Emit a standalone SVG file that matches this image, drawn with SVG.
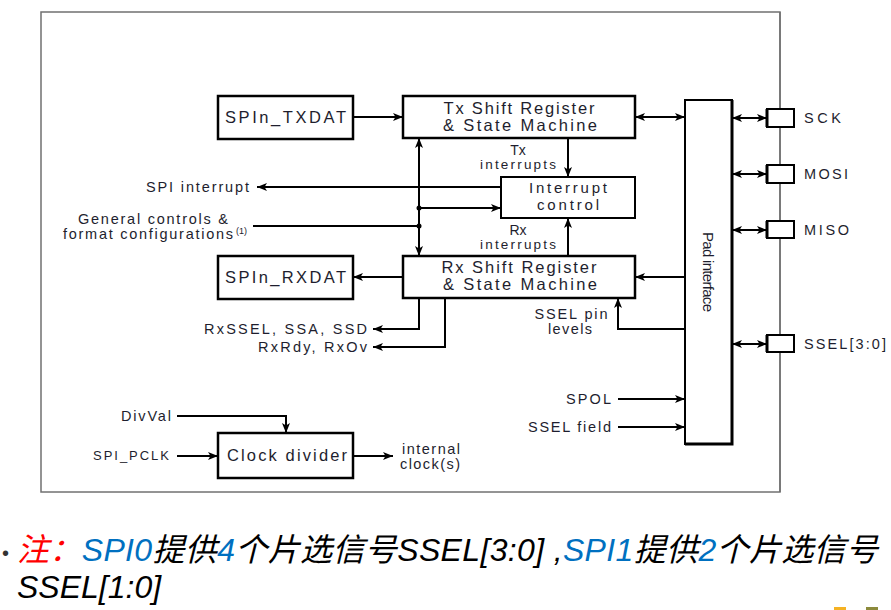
<svg xmlns="http://www.w3.org/2000/svg" width="891" height="610" viewBox="0 0 891 610">
<style>
.box{fill:#fff;stroke:#000;stroke-width:2.5}
.thin{fill:#fff;stroke:#000;stroke-width:2}
.ln{fill:none;stroke:#000;stroke-width:2}
.t{font-family:"Liberation Sans",Arial,sans-serif;fill:#1e1e2e}
.bl{font-size:16.5px;text-anchor:middle}
.sm{font-size:14.5px}
.mid{text-anchor:middle}
.note{font-family:"Liberation Sans","Noto Sans CJK SC",sans-serif;font-style:italic;font-size:32px;fill:#000}
</style>
<defs>
<marker id="ah" markerUnits="userSpaceOnUse" markerWidth="10" markerHeight="8" refX="10" refY="4" orient="auto-start-reverse" viewBox="0 0 10 8">
<path d="M0,0 L10,4 L0,8 L2.5,4 z" fill="#000"/>
</marker>
</defs>

<rect x="41" y="12" width="739" height="480" fill="none" stroke="#707070" stroke-width="1.5"/>

<g id="connectors">
<path class="ln" d="M353,117 H403" marker-end="url(#ah)"/>
<path class="ln" d="M635,117 H685" marker-start="url(#ah)" marker-end="url(#ah)"/>
<path class="ln" d="M419,138 V256" marker-start="url(#ah)" marker-end="url(#ah)"/>
<path class="ln" d="M568,138 V177" stroke-width="3" marker-end="url(#ah)"/>
<path class="ln" d="M568,256 V218" stroke-width="3" marker-end="url(#ah)"/>
<path class="ln" d="M501,187 H257" marker-end="url(#ah)"/>
<path class="ln" d="M253,226 H419"/>
<path class="ln" d="M419,208 H501" marker-end="url(#ah)"/>
<circle cx="419" cy="208" r="2.5" fill="#000"/>
<circle cx="419" cy="226" r="2.5" fill="#000"/>
<path class="ln" d="M403,277 H353" marker-end="url(#ah)"/>
<path class="ln" d="M685,277 H635" marker-end="url(#ah)"/>
<path class="ln" d="M419,298 V329 H373" marker-end="url(#ah)"/>
<path class="ln" d="M445,298 V347 H373" marker-end="url(#ah)"/>
<path class="ln" d="M685,329 H618 V298" marker-end="url(#ah)"/>
<path class="ln" d="M618,399 H685" marker-end="url(#ah)"/>
<path class="ln" d="M618,427 H685" marker-end="url(#ah)"/>
<path class="ln" d="M732,118 H767" marker-start="url(#ah)" marker-end="url(#ah)"/>
<path class="ln" d="M732,174 H767" marker-start="url(#ah)" marker-end="url(#ah)"/>
<path class="ln" d="M732,230 H767" marker-start="url(#ah)" marker-end="url(#ah)"/>
<path class="ln" d="M732,344 H767" marker-start="url(#ah)" marker-end="url(#ah)"/>
<path class="ln" d="M177,416 H286 V433" marker-end="url(#ah)"/>
<path class="ln" d="M177,456 H218" marker-end="url(#ah)"/>
<path class="ln" d="M353,456 H393" marker-end="url(#ah)"/>
</g>

<g id="txdat">
<rect class="box" x="218" y="96" width="135" height="43"/>
<text class="t bl" x="285.5" y="123" textLength="121" lengthAdjust="spacing">SPIn_TXDAT</text>
</g>
<g id="txshift">
<rect class="box" x="403" y="96" width="232" height="42"/>
<text class="t bl" x="519" y="114" textLength="151" lengthAdjust="spacing">Tx Shift Register</text>
<text class="t bl" x="520" y="131" textLength="154" lengthAdjust="spacing">&amp; State Machine</text>
</g>
<g id="intctrl">
<rect class="thin" x="501" y="177" width="134" height="41"/>
<text class="t mid" font-size="15" x="568" y="193" textLength="78" lengthAdjust="spacing">Interrupt</text>
<text class="t mid" font-size="15" x="568" y="210" textLength="62" lengthAdjust="spacing">control</text>
</g>
<g id="rxshift">
<rect class="box" x="403" y="256" width="232" height="42"/>
<text class="t bl" x="519" y="273" textLength="155" lengthAdjust="spacing">Rx Shift Register</text>
<text class="t bl" x="520" y="290" textLength="154" lengthAdjust="spacing">&amp; State Machine</text>
</g>
<g id="rxdat">
<rect class="box" x="218" y="256" width="135" height="43"/>
<text class="t bl" x="285.5" y="283" textLength="121" lengthAdjust="spacing">SPIn_RXDAT</text>
</g>
<g id="clkdiv">
<rect class="box" x="218" y="433" width="135" height="45"/>
<text class="t bl" x="287" y="461" textLength="120" lengthAdjust="spacing">Clock divider</text>
</g>
<g id="pad">
<rect class="thin" x="685" y="100" width="47" height="344"/>
<path d="M732,100 V444 H685" fill="none" stroke="#000" stroke-width="3"/>
<text class="t" font-size="15" text-anchor="middle" transform="translate(703,272) rotate(90)" textLength="80" lengthAdjust="spacing">Pad interface</text>
</g>
<g id="pins">
<path d="M780,12 V492" stroke="#707070" stroke-width="1.5"/>
<rect class="thin" x="767" y="109" width="27" height="18"/>
<rect class="thin" x="767" y="165" width="27" height="18"/>
<rect class="thin" x="767" y="221" width="27" height="17"/>
<rect class="thin" x="767" y="335" width="27" height="17"/>
<path d="M767,109 V127 M767,165 V183 M767,221 V238 M767,335 V352" stroke="#000" stroke-width="3"/>
</g>

<g id="labels">
<text class="t mid" font-size="14" x="518" y="155">Tx</text>
<text class="t mid" font-size="13.5" x="518" y="169" textLength="76" lengthAdjust="spacing">interrupts</text>
<text class="t mid" font-size="14" x="518" y="235">Rx</text>
<text class="t mid" font-size="13.5" x="518" y="249" textLength="76" lengthAdjust="spacing">interrupts</text>
<text class="t sm" x="146" y="192" textLength="103" lengthAdjust="spacing">SPI interrupt</text>
<text class="t sm" x="78" y="224" textLength="150" lengthAdjust="spacing">General controls &amp;</text>
<text class="t sm" x="63" y="239" textLength="170" lengthAdjust="spacing">format configurations</text>
<text class="t" font-size="9" x="236" y="234">(1)</text>
<text class="t sm" x="204" y="334" textLength="163" lengthAdjust="spacing">RxSSEL, SSA, SSD</text>
<text class="t sm" x="258" y="352" textLength="109" lengthAdjust="spacing">RxRdy, RxOv</text>
<text class="t sm mid" x="571" y="319" textLength="73" lengthAdjust="spacing">SSEL pin</text>
<text class="t sm mid" x="570" y="334" textLength="44" lengthAdjust="spacing">levels</text>
<text class="t sm" x="566" y="404" textLength="45" lengthAdjust="spacing">SPOL</text>
<text class="t sm" x="528" y="432" textLength="83" lengthAdjust="spacing">SSEL field</text>
<text class="t sm" x="804" y="123" textLength="37" lengthAdjust="spacing">SCK</text>
<text class="t sm" x="804" y="179" textLength="44" lengthAdjust="spacing">MOSI</text>
<text class="t sm" x="804" y="235" textLength="45" lengthAdjust="spacing">MISO</text>
<text class="t sm" x="804" y="349" textLength="82" lengthAdjust="spacing">SSEL[3:0]</text>
<text class="t sm" x="121" y="421" textLength="50" lengthAdjust="spacing">DivVal</text>
<text class="t" font-size="13" x="93" y="460" textLength="76" lengthAdjust="spacing">SPI_PCLK</text>
<text class="t sm mid" x="431" y="454" textLength="58" lengthAdjust="spacing">internal</text>
<text class="t sm mid" x="430" y="469" textLength="60" lengthAdjust="spacing">clock(s)</text>
</g>

<g id="note">
<text x="2" y="560" font-family="Liberation Sans,sans-serif" font-size="20" fill="#333">•</text>
<text class="note" x="17" y="561" textLength="861" lengthAdjust="spacing"><tspan fill="#FF0000">注：</tspan><tspan fill="#0070C0">SPI0</tspan>提供<tspan fill="#0070C0">4</tspan>个片选信号SSEL[3:0] ,<tspan fill="#0070C0">SPI1</tspan>提供<tspan fill="#0070C0">2</tspan>个片选信号</text>
<text class="note" x="17" y="598">SSEL[1:0]</text>
</g>
<rect x="834" y="607" width="12" height="3" fill="#F5B223"/>
<rect x="866" y="607" width="12" height="3" fill="#8C8A3C"/>
</svg>
